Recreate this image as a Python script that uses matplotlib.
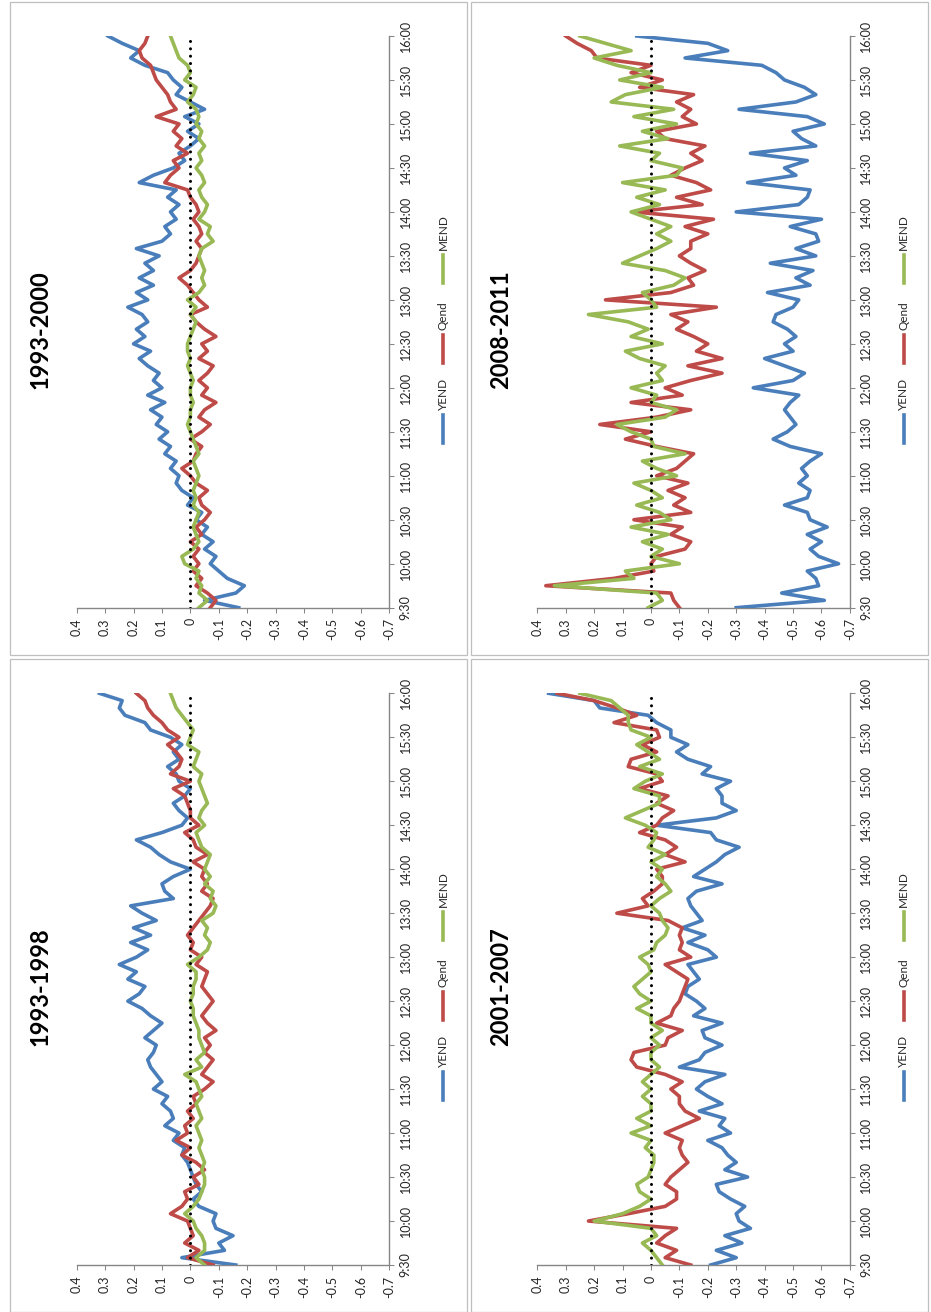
import numpy as np
import matplotlib
matplotlib.use("Agg")
import matplotlib.pyplot as plt
from matplotlib.lines import Line2D
from matplotlib.patches import Rectangle

plt.rcParams["font.family"] = ["Lato", "DejaVu Sans"]

# ---------------------------------------------------------------- data
# minutes after 9:30, one value every 5 minutes up to 16:00
MINUTES = np.arange(0, 391, 5)
TIME_TICKS = np.arange(0, 391, 30)
TIME_LABELS = ["9:30", "10:00", "10:30", "11:00", "11:30", "12:00", "12:30",
               "13:00", "13:30", "14:00", "14:30", "15:00", "15:30", "16:00"]
VALUE_TICKS = [0.4, 0.3, 0.2, 0.1, 0.0, -0.1, -0.2, -0.3, -0.4, -0.5, -0.6, -0.7]
VALUE_LABELS = ["0.4", "0.3", "0.2", "0.1", "0", "-0.1", "-0.2", "-0.3",
                "-0.4", "-0.5", "-0.6", "-0.7"]
SERIES_NAMES = ["YEND", "Qend", "MEND"]
COLOURS = ["#4A7EBB", "#BE4B48", "#98B954"]

yend_1993_2000 = [
    -0.17, -0.05, -0.16, -0.19, -0.13, -0.10, -0.07, -0.09, -0.05, -0.08,
    -0.04, -0.06, -0.02, -0.04, 0.01, -0.01, 0.03, 0.05, 0.04, 0.07,
    0.05, 0.09, 0.07, 0.11, 0.08, 0.12, 0.10, 0.14, 0.09, 0.15,
    0.10, 0.13, 0.11, 0.15, 0.18, 0.14, 0.20, 0.16, 0.19, 0.15,
    0.17, 0.22, 0.15, 0.19, 0.13, 0.18, 0.13, 0.16, 0.11, 0.19,
    0.10, 0.07, 0.09, 0.05, 0.07, 0.04, 0.08, 0.05, 0.18, 0.13,
    0.06, 0.02, 0.04, 0.00, -0.03, 0.01, -0.03, 0.02, -0.05, 0.00,
    0.05, 0.03, 0.06, 0.08, 0.16, 0.21, 0.18, 0.24, 0.29]
qend_1993_2000 = [
    -0.07, -0.09, -0.06, -0.02, -0.04, -0.01, -0.03, -0.01, -0.03, 0.00,
    -0.04, -0.02, -0.05, -0.07, -0.04, -0.03, -0.06, -0.02, 0.00, 0.03,
    -0.01, -0.02, -0.04, 0.00, -0.04, -0.07, -0.03, -0.05, -0.09, -0.04,
    -0.06, -0.03, -0.06, -0.08, -0.03, -0.06, -0.04, -0.09, -0.05, -0.02,
    0.00, -0.06, -0.03, -0.01, 0.01, 0.04, 0.00, -0.02, -0.03, -0.04,
    -0.02, -0.04, -0.03, -0.01, -0.03, -0.02, 0.00, 0.01, 0.09, 0.07,
    0.04, 0.06, 0.01, 0.05, 0.03, 0.06, 0.04, 0.12, 0.05, 0.07,
    0.08, 0.10, 0.12, 0.13, 0.14, 0.17, 0.18, 0.16, 0.15]
mend_1993_2000 = [
    -0.03, -0.06, -0.03, -0.04, -0.02, -0.03, 0.02, 0.03, -0.01, -0.03,
    -0.02, -0.01, -0.02, -0.03, -0.01, -0.02, -0.01, -0.02, -0.03, -0.02,
    -0.01, -0.03, -0.02, -0.01, 0.00, 0.01, 0.00, 0.00, -0.01, 0.00,
    0.00, -0.01, 0.00, 0.01, 0.00, 0.01, 0.01, 0.00, -0.01, -0.02,
    0.00, -0.02, 0.01, -0.03, -0.05, -0.04, -0.05, -0.04, -0.03, -0.04,
    -0.08, -0.06, -0.07, -0.03, -0.05, -0.06, -0.04, -0.03, -0.05, -0.04,
    -0.02, -0.04, -0.03, -0.05, -0.03, -0.04, -0.02, -0.03, -0.02, 0.01,
    -0.01, -0.02, 0.02, 0.00, 0.01, 0.04, 0.05, 0.06, 0.07]

yend_2008_2011 = [
    -0.30, -0.61, -0.46, -0.59, -0.58, -0.55, -0.66, -0.59, -0.56, -0.60,
    -0.55, -0.62, -0.56, -0.55, -0.47, -0.55, -0.56, -0.52, -0.55, -0.53,
    -0.56, -0.60, -0.49, -0.43, -0.48, -0.51, -0.49, -0.47, -0.49, -0.52,
    -0.36, -0.50, -0.54, -0.47, -0.40, -0.50, -0.47, -0.51, -0.48, -0.43,
    -0.44, -0.50, -0.52, -0.41, -0.56, -0.51, -0.57, -0.42, -0.58, -0.51,
    -0.59, -0.58, -0.49, -0.60, -0.30, -0.52, -0.55, -0.56, -0.34, -0.51,
    -0.47, -0.55, -0.35, -0.58, -0.53, -0.50, -0.61, -0.55, -0.31, -0.51,
    -0.58, -0.54, -0.47, -0.44, -0.39, -0.12, -0.27, -0.20, 0.05]
qend_2008_2011 = [
    -0.10, -0.08, -0.07, 0.37, 0.13, -0.01, 0.00, -0.02, -0.12, -0.14,
    -0.07, -0.11, 0.06, -0.14, -0.08, -0.12, -0.06, -0.13, -0.02, -0.09,
    -0.12, -0.15, -0.02, 0.09, 0.00, 0.18, -0.02, -0.14, 0.07, -0.11,
    -0.05, -0.14, -0.25, -0.13, -0.25, -0.16, -0.20, -0.15, -0.09, -0.13,
    -0.07, -0.23, 0.16, -0.07, -0.15, -0.13, -0.19, -0.14, -0.10, -0.14,
    -0.14, -0.20, -0.12, -0.22, 0.06, -0.18, -0.09, -0.21, -0.16, -0.07,
    -0.12, -0.18, -0.14, -0.19, -0.05, -0.02, -0.16, -0.11, -0.14, -0.09,
    -0.15, 0.04, -0.04, 0.07, 0.00, 0.19, 0.21, 0.26, 0.30]
mend_2008_2011 = [
    0.01, -0.04, -0.02, 0.34, 0.06, 0.09, -0.10, 0.00, -0.04, 0.03,
    -0.06, 0.07, -0.07, -0.03, 0.05, -0.04, 0.00, 0.06, -0.09, -0.02,
    0.03, -0.12, -0.01, 0.00, 0.07, 0.12, -0.05, -0.09, 0.00, -0.02,
    0.07, -0.04, -0.02, -0.05, 0.04, 0.09, -0.04, 0.07, 0.01, 0.08,
    0.22, -0.02, 0.00, 0.03, -0.08, -0.12, -0.05, 0.10, 0.04, -0.02,
    -0.07, -0.02, -0.07, 0.00, 0.07, -0.03, 0.05, -0.05, 0.10, -0.09,
    -0.11, 0.00, -0.03, 0.11, -0.06, 0.03, -0.09, 0.06, -0.08, 0.14,
    0.09, -0.04, 0.11, 0.00, 0.12, 0.20, 0.07, 0.16, 0.25]

yend_1993_1998 = [
    -0.16, 0.03, -0.12, -0.10, -0.15, -0.09, -0.08, -0.09, -0.03, -0.01,
    -0.04, -0.02, -0.01, 0.00, 0.01, 0.03, 0.02, 0.06, 0.04, 0.09,
    0.06, 0.07, 0.10, 0.08, 0.13, 0.10, 0.12, 0.14, 0.15, 0.13,
    0.12, 0.16, 0.13, 0.10, 0.14, 0.17, 0.22, 0.18, 0.16, 0.22,
    0.19, 0.25, 0.19, 0.15, 0.21, 0.14, 0.20, 0.12, 0.17, 0.21,
    0.06, 0.09, 0.10, 0.06, 0.00, 0.07, 0.11, 0.14, 0.19, 0.10,
    0.03, 0.01, 0.04, 0.06, 0.02, 0.00, 0.04, 0.05, 0.08, 0.04,
    0.06, 0.03, 0.07, 0.14, 0.16, 0.23, 0.25, 0.24, 0.32]
qend_1993_1998 = [
    -0.08, 0.01, -0.03, 0.02, -0.01, 0.00, 0.01, 0.07, 0.03, 0.01,
    0.02, -0.03, -0.01, -0.05, -0.02, 0.03, 0.00, 0.05, 0.01, 0.02,
    -0.01, 0.01, -0.02, -0.01, -0.05, -0.08, -0.04, -0.06, -0.08, -0.05,
    -0.07, -0.05, -0.09, -0.06, -0.04, -0.06, -0.08, -0.06, -0.04, -0.05,
    -0.06, -0.02, -0.04, 0.00, -0.01, 0.01, -0.01, -0.03, -0.05, -0.07,
    -0.08, -0.04, -0.06, -0.04, -0.05, -0.01, -0.06, -0.02, -0.01, 0.02,
    -0.03, 0.00, 0.00, 0.01, 0.02, 0.06, 0.00, 0.07, 0.04, 0.03,
    0.05, 0.08, 0.04, 0.08, 0.10, 0.13, 0.15, 0.16, 0.19]
mend_1993_1998 = [
    -0.05, -0.02, -0.05, -0.05, -0.04, -0.02, -0.01, 0.02, -0.01, -0.03,
    -0.04, -0.05, -0.05, -0.04, -0.05, -0.04, -0.03, -0.04, -0.03, -0.02,
    -0.04, -0.03, -0.02, -0.04, -0.03, -0.02, 0.02, -0.04, -0.02, -0.05,
    -0.04, -0.03, -0.03, -0.02, -0.01, -0.01, 0.00, -0.01, -0.01, -0.02,
    -0.02, 0.01, -0.03, -0.06, -0.07, -0.05, -0.06, -0.04, -0.08, -0.09,
    -0.07, -0.08, -0.05, -0.07, -0.05, -0.06, -0.07, -0.04, -0.03, -0.02,
    -0.05, -0.03, -0.04, -0.06, -0.05, -0.04, -0.03, -0.04, -0.01, -0.02,
    -0.03, 0.01, 0.00, -0.01, 0.01, 0.03, 0.05, 0.06, 0.07]

yend_2001_2007 = [
    -0.21, -0.30, -0.23, -0.32, -0.26, -0.35, -0.31, -0.30, -0.33, -0.28,
    -0.24, -0.23, -0.34, -0.26, -0.30, -0.27, -0.25, -0.20, -0.28, -0.24,
    -0.26, -0.17, -0.25, -0.20, -0.16, -0.19, -0.26, -0.10, -0.17, -0.19,
    -0.25, -0.19, -0.18, -0.25, -0.15, -0.19, -0.16, -0.12, -0.13, -0.17,
    -0.15, -0.13, -0.23, -0.20, -0.13, -0.19, -0.11, -0.18, -0.16, -0.14,
    -0.13, -0.16, -0.25, -0.15, -0.19, -0.23, -0.26, -0.31, -0.23, -0.21,
    -0.02, -0.23, -0.30, -0.25, -0.25, -0.23, -0.28, -0.18, -0.21, -0.13,
    -0.09, -0.13, -0.07, -0.07, -0.02, 0.01, 0.18, 0.20, 0.36]
qend_2001_2007 = [
    -0.14, -0.05, -0.09, -0.02, -0.05, -0.09, 0.22, 0.08, -0.05, -0.09,
    -0.09, -0.05, -0.07, -0.10, -0.13, -0.11, -0.10, -0.11, -0.05, -0.11,
    -0.17, -0.12, -0.10, -0.10, -0.07, -0.11, -0.05, 0.05, 0.07, 0.06,
    -0.05, -0.06, -0.11, -0.02, -0.07, -0.08, -0.10, -0.11, -0.12, -0.13,
    -0.09, -0.05, -0.14, -0.10, -0.11, -0.10, -0.11, -0.06, 0.12, 0.01,
    0.03, -0.01, -0.04, -0.04, -0.02, -0.12, -0.05, -0.09, -0.05, 0.04,
    -0.02, -0.04, -0.08, -0.02, -0.06, 0.04, -0.04, -0.02, 0.08, 0.07,
    -0.02, 0.03, -0.03, -0.02, 0.13, 0.05, 0.12, 0.20, 0.33]
mend_2001_2007 = [
    -0.04, -0.02, 0.00, 0.03, -0.02, 0.00, 0.20, 0.10, 0.04, 0.00,
    0.04, 0.05, 0.01, 0.00, -0.01, -0.01, 0.02, 0.00, 0.07, 0.00,
    0.05, 0.00, 0.00, 0.03, 0.00, 0.03, 0.00, -0.03, 0.00, 0.00,
    -0.03, 0.00, -0.04, 0.00, 0.00, 0.05, 0.00, 0.04, 0.06, 0.03,
    0.00, 0.01, 0.04, -0.01, -0.02, -0.05, -0.06, -0.04, -0.03, 0.00,
    -0.03, -0.07, -0.05, -0.02, -0.04, 0.00, -0.05, 0.01, -0.01, -0.02,
    0.02, 0.09, 0.03, -0.03, -0.03, 0.06, 0.02, -0.04, 0.04, -0.03,
    0.01, 0.05, 0.00, 0.07, 0.08, 0.08, 0.11, 0.14, 0.25]

# (title, series, column, row)
PANELS = [
    ("1993-2000", [yend_1993_2000, qend_1993_2000, mend_1993_2000], 0, 0),
    ("2008-2011", [yend_2008_2011, qend_2008_2011, mend_2008_2011], 1, 0),
    ("1993-1998", [yend_1993_1998, qend_1993_1998, mend_1993_1998], 0, 1),
    ("2001-2007", [yend_2001_2007, qend_2001_2007, mend_2001_2007], 1, 1),
]

# ---------------------------------------------------------------- layout (pixels)
W, H = 931, 1312
COL_DX = 460.6
ROW_DY = 657.3
AXIS_GREY = "#868686"
TEXT_COL = "#262626"


def fx(px):
    return px / W


def fy(py):
    return 1 - py / H


fig = plt.figure(figsize=(W / 100, H / 100), dpi=100)
fig.patch.set_facecolor("white")

for title, series, col, row in PANELS:
    dx = col * COL_DX
    dy = row * ROW_DY

    # chart-area frame
    fig.add_artist(Rectangle((fx(10 + dx), fy(655 + dy)),
                             fx(457), 653 / H, transform=fig.transFigure,
                             fill=False, edgecolor="#BFBFBF", lw=0.9))

    ax = fig.add_axes([fx(76.7 + dx), fy(607.7 + dy), fx(312.6), 571.7 / H])
    for vals, colour in zip(series, COLOURS):
        ax.plot(vals, MINUTES, color=colour, lw=2.6, solid_joinstyle="round",
                zorder=3)
    ax.plot([0.0] * len(MINUTES), MINUTES, color="black", lw=2.2,
            linestyle=(0, (0.01, 2.4)), dash_capstyle="round", zorder=4)

    ax.set_xlim(0.4, -0.7)
    ax.set_ylim(0, 390)
    ax.set_xticks(VALUE_TICKS)
    ax.set_xticklabels(VALUE_LABELS, rotation=90)
    ax.set_yticks(TIME_TICKS)
    ax.set_yticklabels(TIME_LABELS, rotation=90, va="center")
    ax.yaxis.tick_right()
    ax.tick_params(axis="both", direction="out", length=3.5, width=0.75,
                   color=AXIS_GREY, labelsize=9, labelcolor=TEXT_COL, pad=4)
    for side in ("top", "left"):
        ax.spines[side].set_visible(False)
    for side in ("bottom", "right"):
        ax.spines[side].set_color(AXIS_GREY)
        ax.spines[side].set_linewidth(1.0)
    ax.patch.set_alpha(0)

    # title (rotated)
    fig.text(fx(40 + dx), fy(987 - ROW_DY + dy), title, rotation=90,
             ha="center", va="center", fontsize=17, fontweight="bold",
             color="black")

    # legend (rotated, drawn by hand)
    lx = 443 + dx
    base = 1100 - ROW_DY + dy
    for i, (name, colour) in enumerate(zip(SERIES_NAMES, COLOURS)):
        y0 = base - i * 80
        fig.add_artist(Line2D([fx(lx), fx(lx)], [fy(y0), fy(y0 - 28)],
                              transform=fig.transFigure, color=colour, lw=2.6))
        fig.text(fx(lx), fy(y0 - 33), name, rotation=90, ha="center",
                 va="bottom", fontsize=8.5, color=TEXT_COL)

fig.savefig("out.png", dpi=100, facecolor="white")
